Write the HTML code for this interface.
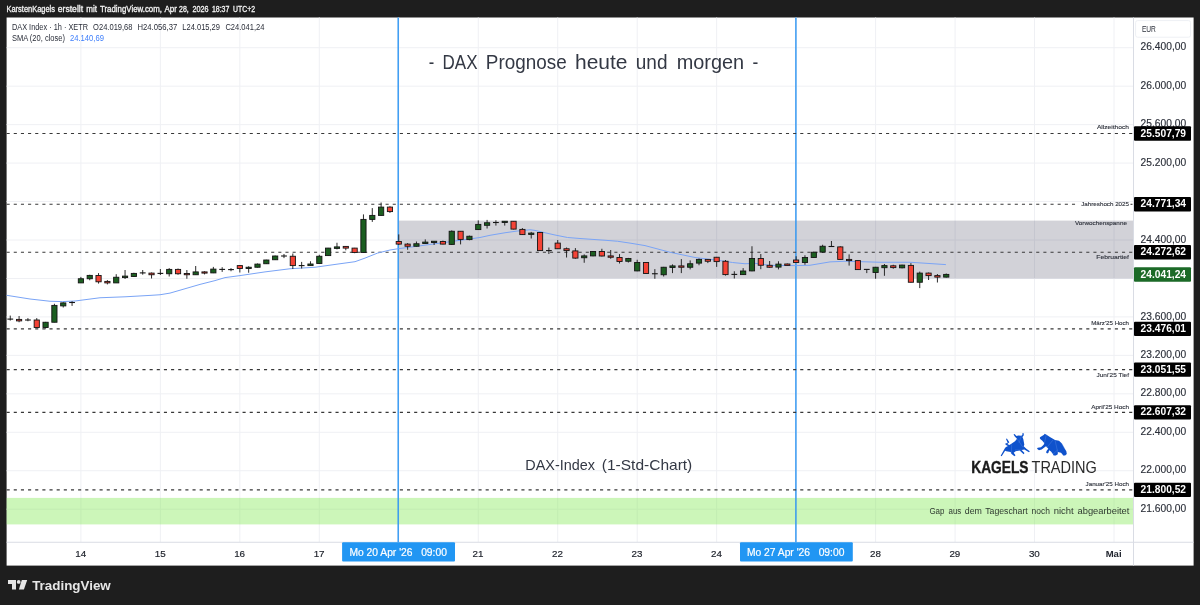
<!DOCTYPE html><html lang="de"><head><meta charset="utf-8"><title>DAX Prognose heute und morgen</title>
<style>html,body{margin:0;padding:0;background:#1e1e1e;}body{width:1200px;height:605px;overflow:hidden;font-family:"Liberation Sans",sans-serif;}svg{display:block;filter:blur(0.3px)}text{font-family:"Liberation Sans",sans-serif;}</style></head><body>
<svg width="1200" height="605" viewBox="0 0 1200 605">
<rect x="0" y="0" width="1200" height="605" fill="#1e1e1e"/>
<rect x="6.6" y="17.5" width="1187.0" height="548.1" fill="#ffffff"/>
<g stroke="#eff0f4" stroke-width="1" fill="none">
<line x1="80.90" y1="17.5" x2="80.90" y2="542.25"/>
<line x1="160.37" y1="17.5" x2="160.37" y2="542.25"/>
<line x1="239.84" y1="17.5" x2="239.84" y2="542.25"/>
<line x1="319.31" y1="17.5" x2="319.31" y2="542.25"/>
<line x1="398.78" y1="17.5" x2="398.78" y2="542.25"/>
<line x1="478.25" y1="17.5" x2="478.25" y2="542.25"/>
<line x1="557.72" y1="17.5" x2="557.72" y2="542.25"/>
<line x1="637.19" y1="17.5" x2="637.19" y2="542.25"/>
<line x1="716.66" y1="17.5" x2="716.66" y2="542.25"/>
<line x1="796.13" y1="17.5" x2="796.13" y2="542.25"/>
<line x1="875.60" y1="17.5" x2="875.60" y2="542.25"/>
<line x1="955.07" y1="17.5" x2="955.07" y2="542.25"/>
<line x1="1034.54" y1="17.5" x2="1034.54" y2="542.25"/>
<line x1="1114.01" y1="17.5" x2="1114.01" y2="542.25"/>
<line x1="6.6" y1="47.72" x2="1133.5" y2="47.72"/>
<line x1="6.6" y1="86.18" x2="1133.5" y2="86.18"/>
<line x1="6.6" y1="124.64" x2="1133.5" y2="124.64"/>
<line x1="6.6" y1="163.09" x2="1133.5" y2="163.09"/>
<line x1="6.6" y1="201.55" x2="1133.5" y2="201.55"/>
<line x1="6.6" y1="240.00" x2="1133.5" y2="240.00"/>
<line x1="6.6" y1="278.46" x2="1133.5" y2="278.46"/>
<line x1="6.6" y1="316.92" x2="1133.5" y2="316.92"/>
<line x1="6.6" y1="355.37" x2="1133.5" y2="355.37"/>
<line x1="6.6" y1="393.83" x2="1133.5" y2="393.83"/>
<line x1="6.6" y1="432.28" x2="1133.5" y2="432.28"/>
<line x1="6.6" y1="470.74" x2="1133.5" y2="470.74"/>
<line x1="6.6" y1="509.20" x2="1133.5" y2="509.20"/>
</g>
<line x1="1133.5" y1="17.5" x2="1133.5" y2="565.6" stroke="#d9dce4" stroke-width="1"/>
<line x1="6.6" y1="542.25" x2="1193.6" y2="542.25" stroke="#d9dce4" stroke-width="1"/>
<rect x="398.6" y="220.6" width="734.40" height="57.90" fill="#1c1c3c" fill-opacity="0.2"/>
<rect x="6.6" y="497.9" width="1126.40" height="26.50" fill="#7fe850" fill-opacity="0.4"/>
<line x1="398.2" y1="17.5" x2="398.2" y2="542.25" stroke="#3297f2" stroke-width="1.45"/>
<line x1="795.9" y1="17.5" x2="795.9" y2="542.25" stroke="#3297f2" stroke-width="1.45"/>
<g stroke="#383838" stroke-width="1.1" stroke-dasharray="3.1 4.05" fill="none">
<line x1="6.6" y1="133.50" x2="1132.5" y2="133.50"/>
<line x1="6.6" y1="204.30" x2="1076" y2="204.30"/>
<line x1="1130.5" y1="204.30" x2="1132.5" y2="204.30"/>
<line x1="6.6" y1="252.25" x2="1132.5" y2="252.25"/>
<line x1="6.6" y1="328.84" x2="1132.5" y2="328.84"/>
<line x1="6.6" y1="369.64" x2="1132.5" y2="369.64"/>
<line x1="6.6" y1="412.35" x2="1132.5" y2="412.35"/>
<line x1="6.6" y1="489.92" x2="1132.5" y2="489.92"/>
</g>
<polyline points="6.6,295.30 30.0,299.00 50.0,301.25 62.5,301.60 75.0,301.00 100.0,297.75 125.0,296.80 150.0,295.40 160.0,294.75 170.0,293.10 200.0,284.40 215.0,280.60 225.0,277.60 240.0,275.60 265.0,271.90 290.0,268.75 315.0,267.25 340.0,263.75 355.0,261.70 365.0,258.10 377.5,253.10 390.0,250.00 398.0,248.75 415.0,246.50 440.0,243.10 465.0,239.60 480.0,237.50 490.0,235.30 505.0,232.75 517.5,231.00 530.0,229.75 535.0,230.40 545.0,232.75 555.0,235.00 567.5,237.50 580.0,238.50 605.0,240.25 617.5,241.25 630.0,243.10 645.0,245.60 670.0,252.25 695.0,257.50 720.0,260.60 732.5,262.50 745.0,263.75 755.0,263.30 770.0,265.40 795.0,265.60 810.0,265.25 830.0,261.90 845.0,261.25 855.0,261.50 880.0,262.25 910.0,262.25 920.0,262.90 945.9,264.60" fill="none" stroke="#7aa4f6" stroke-width="1" stroke-linejoin="round"/>
<g stroke="#141414" stroke-width="0.9">
<line x1="10.26" y1="315.60" x2="10.26" y2="320.60"/>
<line x1="7.36" y1="319.10" x2="13.16" y2="319.10" stroke-width="1.1"/>
<line x1="19.09" y1="316.00" x2="19.09" y2="322.25"/>
<rect x="16.49" y="319.40" width="5.2" height="1.50" fill="#f44336"/>
<line x1="27.92" y1="318.10" x2="27.92" y2="321.25"/>
<line x1="25.02" y1="320.00" x2="30.82" y2="320.00" stroke-width="1.1"/>
<line x1="36.75" y1="318.10" x2="36.75" y2="327.50"/>
<rect x="34.15" y="320.00" width="5.2" height="7.50" fill="#f44336"/>
<line x1="45.58" y1="321.90" x2="45.58" y2="328.50"/>
<rect x="42.98" y="322.25" width="5.2" height="5.25" fill="#1b5e20"/>
<line x1="54.41" y1="303.75" x2="54.41" y2="322.25"/>
<rect x="51.81" y="305.40" width="5.2" height="16.85" fill="#1b5e20"/>
<line x1="63.24" y1="302.25" x2="63.24" y2="307.50"/>
<rect x="60.64" y="302.90" width="5.2" height="3.00" fill="#1b5e20"/>
<line x1="72.07" y1="301.25" x2="72.07" y2="305.90"/>
<line x1="69.17" y1="302.50" x2="74.97" y2="302.50" stroke-width="1.1"/>
<line x1="80.90" y1="276.90" x2="80.90" y2="282.90"/>
<rect x="78.30" y="278.75" width="5.2" height="4.15" fill="#1b5e20"/>
<line x1="89.73" y1="274.75" x2="89.73" y2="280.25"/>
<rect x="87.13" y="275.40" width="5.2" height="3.35" fill="#1b5e20"/>
<line x1="98.56" y1="273.10" x2="98.56" y2="283.60"/>
<rect x="95.96" y="275.50" width="5.2" height="6.30" fill="#f44336"/>
<line x1="107.39" y1="280.10" x2="107.39" y2="284.40"/>
<rect x="104.79" y="281.40" width="5.2" height="1.50" fill="#f44336"/>
<line x1="116.22" y1="274.20" x2="116.22" y2="282.90"/>
<rect x="113.62" y="277.25" width="5.2" height="5.65" fill="#1b5e20"/>
<line x1="125.05" y1="270.00" x2="125.05" y2="279.00"/>
<rect x="122.45" y="276.10" width="5.2" height="1.50" fill="#1b5e20"/>
<line x1="133.88" y1="272.75" x2="133.88" y2="276.90"/>
<rect x="131.28" y="273.40" width="5.2" height="3.10" fill="#1b5e20"/>
<line x1="142.71" y1="270.00" x2="142.71" y2="274.70"/>
<line x1="139.81" y1="272.90" x2="145.61" y2="272.90" stroke-width="1.1"/>
<line x1="151.54" y1="272.50" x2="151.54" y2="278.50"/>
<rect x="148.94" y="273.10" width="5.2" height="1.65" fill="#f44336"/>
<line x1="160.37" y1="269.00" x2="160.37" y2="275.00"/>
<line x1="157.47" y1="273.40" x2="163.27" y2="273.40" stroke-width="1.1"/>
<line x1="169.20" y1="268.10" x2="169.20" y2="276.50"/>
<rect x="166.60" y="269.40" width="5.2" height="4.35" fill="#1b5e20"/>
<line x1="178.03" y1="268.50" x2="178.03" y2="274.75"/>
<rect x="175.43" y="269.40" width="5.2" height="4.35" fill="#f44336"/>
<line x1="186.86" y1="270.00" x2="186.86" y2="278.75"/>
<rect x="184.26" y="273.50" width="5.2" height="1.25" fill="#f44336"/>
<line x1="195.69" y1="266.00" x2="195.69" y2="274.75"/>
<rect x="193.09" y="271.90" width="5.2" height="2.85" fill="#1b5e20"/>
<line x1="204.52" y1="271.25" x2="204.52" y2="274.40"/>
<rect x="201.92" y="271.90" width="5.2" height="1.20" fill="#f44336"/>
<line x1="213.35" y1="266.90" x2="213.35" y2="273.10"/>
<rect x="210.75" y="269.10" width="5.2" height="3.80" fill="#1b5e20"/>
<line x1="222.18" y1="267.20" x2="222.18" y2="271.90"/>
<line x1="219.28" y1="269.40" x2="225.08" y2="269.40" stroke-width="1.1"/>
<line x1="231.01" y1="268.10" x2="231.01" y2="271.25"/>
<line x1="228.11" y1="269.60" x2="233.91" y2="269.60" stroke-width="1.1"/>
<line x1="239.84" y1="265.00" x2="239.84" y2="272.50"/>
<rect x="237.24" y="265.60" width="5.2" height="2.90" fill="#f44336"/>
<line x1="248.67" y1="266.25" x2="248.67" y2="272.75"/>
<rect x="246.07" y="267.25" width="5.2" height="1.25" fill="#1b5e20"/>
<line x1="257.50" y1="263.50" x2="257.50" y2="267.50"/>
<rect x="254.90" y="264.10" width="5.2" height="3.15" fill="#1b5e20"/>
<line x1="266.33" y1="259.75" x2="266.33" y2="264.00"/>
<rect x="263.73" y="260.00" width="5.2" height="3.75" fill="#1b5e20"/>
<line x1="275.16" y1="255.60" x2="275.16" y2="260.00"/>
<rect x="272.56" y="256.00" width="5.2" height="3.75" fill="#1b5e20"/>
<line x1="283.99" y1="254.00" x2="283.99" y2="258.10"/>
<line x1="281.09" y1="256.00" x2="286.89" y2="256.00" stroke-width="1.1"/>
<line x1="292.82" y1="253.50" x2="292.82" y2="269.00"/>
<rect x="290.22" y="256.25" width="5.2" height="9.35" fill="#f44336"/>
<line x1="301.65" y1="261.90" x2="301.65" y2="268.50"/>
<line x1="298.75" y1="265.60" x2="304.55" y2="265.60" stroke-width="1.1"/>
<line x1="310.48" y1="261.25" x2="310.48" y2="265.60"/>
<rect x="307.88" y="264.00" width="5.2" height="1.60" fill="#1b5e20"/>
<line x1="319.31" y1="254.75" x2="319.31" y2="263.75"/>
<rect x="316.71" y="256.25" width="5.2" height="7.25" fill="#1b5e20"/>
<line x1="328.14" y1="247.90" x2="328.14" y2="255.90"/>
<rect x="325.54" y="248.10" width="5.2" height="7.50" fill="#1b5e20"/>
<line x1="336.97" y1="242.75" x2="336.97" y2="249.40"/>
<rect x="334.37" y="246.90" width="5.2" height="1.50" fill="#1b5e20"/>
<line x1="345.80" y1="246.10" x2="345.80" y2="250.30"/>
<rect x="343.20" y="246.40" width="5.2" height="1.70" fill="#f44336"/>
<line x1="354.63" y1="247.90" x2="354.63" y2="253.20"/>
<rect x="352.03" y="248.10" width="5.2" height="4.40" fill="#f44336"/>
<line x1="363.46" y1="214.40" x2="363.46" y2="252.75"/>
<rect x="360.86" y="219.40" width="5.2" height="33.10" fill="#1b5e20"/>
<line x1="372.29" y1="208.10" x2="372.29" y2="221.90"/>
<rect x="369.69" y="215.40" width="5.2" height="4.00" fill="#1b5e20"/>
<line x1="381.12" y1="202.50" x2="381.12" y2="215.60"/>
<rect x="378.52" y="207.10" width="5.2" height="8.30" fill="#1b5e20"/>
<line x1="389.95" y1="206.25" x2="389.95" y2="212.90"/>
<rect x="387.35" y="207.10" width="5.2" height="4.50" fill="#f44336"/>
<line x1="398.78" y1="234.40" x2="398.78" y2="245.00"/>
<rect x="396.18" y="241.50" width="5.2" height="2.60" fill="#f44336"/>
<line x1="407.61" y1="243.10" x2="407.61" y2="249.75"/>
<rect x="405.01" y="244.10" width="5.2" height="2.15" fill="#f44336"/>
<line x1="416.44" y1="241.50" x2="416.44" y2="246.50"/>
<rect x="413.84" y="243.75" width="5.2" height="2.50" fill="#1b5e20"/>
<line x1="425.27" y1="239.40" x2="425.27" y2="244.00"/>
<rect x="422.67" y="242.10" width="5.2" height="1.40" fill="#1b5e20"/>
<line x1="434.10" y1="241.00" x2="434.10" y2="245.00"/>
<rect x="431.50" y="241.25" width="5.2" height="1.25" fill="#1b5e20"/>
<line x1="442.93" y1="240.60" x2="442.93" y2="244.40"/>
<rect x="440.33" y="241.50" width="5.2" height="2.60" fill="#f44336"/>
<line x1="451.76" y1="230.40" x2="451.76" y2="245.00"/>
<rect x="449.16" y="231.25" width="5.2" height="13.15" fill="#1b5e20"/>
<line x1="460.59" y1="231.00" x2="460.59" y2="244.40"/>
<rect x="457.99" y="231.25" width="5.2" height="8.15" fill="#f44336"/>
<line x1="469.42" y1="235.60" x2="469.42" y2="240.25"/>
<rect x="466.82" y="236.25" width="5.2" height="3.35" fill="#1b5e20"/>
<line x1="478.25" y1="220.40" x2="478.25" y2="230.00"/>
<rect x="475.65" y="224.40" width="5.2" height="5.20" fill="#1b5e20"/>
<line x1="487.08" y1="219.90" x2="487.08" y2="228.50"/>
<rect x="484.48" y="222.75" width="5.2" height="2.55" fill="#1b5e20"/>
<line x1="495.91" y1="220.25" x2="495.91" y2="225.60"/>
<line x1="493.01" y1="222.50" x2="498.81" y2="222.50" stroke-width="1.1"/>
<line x1="504.74" y1="221.00" x2="504.74" y2="225.60"/>
<rect x="502.14" y="221.25" width="5.2" height="1.25" fill="#1b5e20"/>
<line x1="513.57" y1="221.00" x2="513.57" y2="229.40"/>
<rect x="510.97" y="221.25" width="5.2" height="7.85" fill="#f44336"/>
<line x1="522.40" y1="228.10" x2="522.40" y2="235.00"/>
<rect x="519.80" y="229.40" width="5.2" height="5.20" fill="#f44336"/>
<line x1="531.23" y1="231.90" x2="531.23" y2="238.50"/>
<rect x="528.63" y="233.10" width="5.2" height="1.30" fill="#1b5e20"/>
<line x1="540.06" y1="232.25" x2="540.06" y2="250.90"/>
<rect x="537.46" y="232.50" width="5.2" height="18.10" fill="#f44336"/>
<line x1="548.89" y1="247.50" x2="548.89" y2="254.00"/>
<line x1="545.99" y1="250.60" x2="551.79" y2="250.60" stroke-width="1.1"/>
<line x1="557.72" y1="240.00" x2="557.72" y2="249.00"/>
<rect x="555.12" y="243.10" width="5.2" height="5.65" fill="#f44336"/>
<line x1="566.55" y1="247.50" x2="566.55" y2="257.50"/>
<rect x="563.95" y="248.75" width="5.2" height="1.85" fill="#f44336"/>
<line x1="575.38" y1="248.10" x2="575.38" y2="258.75"/>
<rect x="572.78" y="250.90" width="5.2" height="7.20" fill="#f44336"/>
<line x1="584.21" y1="254.40" x2="584.21" y2="262.75"/>
<rect x="581.61" y="255.90" width="5.2" height="1.85" fill="#1b5e20"/>
<line x1="593.04" y1="251.00" x2="593.04" y2="256.25"/>
<rect x="590.44" y="251.50" width="5.2" height="4.40" fill="#1b5e20"/>
<line x1="601.87" y1="248.75" x2="601.87" y2="256.50"/>
<rect x="599.27" y="251.50" width="5.2" height="4.50" fill="#f44336"/>
<line x1="610.70" y1="250.00" x2="610.70" y2="258.75"/>
<rect x="608.10" y="255.90" width="5.2" height="1.35" fill="#f44336"/>
<line x1="619.53" y1="254.10" x2="619.53" y2="263.50"/>
<rect x="616.93" y="257.50" width="5.2" height="4.00" fill="#f44336"/>
<line x1="628.36" y1="257.90" x2="628.36" y2="262.50"/>
<rect x="625.76" y="258.50" width="5.2" height="2.75" fill="#1b5e20"/>
<line x1="637.19" y1="259.75" x2="637.19" y2="271.25"/>
<rect x="634.59" y="262.50" width="5.2" height="8.40" fill="#1b5e20"/>
<line x1="646.02" y1="262.25" x2="646.02" y2="273.75"/>
<rect x="643.42" y="262.50" width="5.2" height="11.00" fill="#f44336"/>
<line x1="654.85" y1="269.10" x2="654.85" y2="278.75"/>
<line x1="651.95" y1="273.75" x2="657.75" y2="273.75" stroke-width="1.1"/>
<line x1="663.68" y1="266.90" x2="663.68" y2="276.50"/>
<rect x="661.08" y="267.25" width="5.2" height="7.50" fill="#1b5e20"/>
<line x1="672.51" y1="264.40" x2="672.51" y2="273.10"/>
<rect x="669.91" y="265.90" width="5.2" height="1.60" fill="#1b5e20"/>
<line x1="681.34" y1="259.10" x2="681.34" y2="273.10"/>
<rect x="678.74" y="265.90" width="5.2" height="1.35" fill="#f44336"/>
<line x1="690.17" y1="260.40" x2="690.17" y2="269.40"/>
<rect x="687.57" y="263.75" width="5.2" height="3.50" fill="#1b5e20"/>
<line x1="699.00" y1="258.50" x2="699.00" y2="265.25"/>
<rect x="696.40" y="259.40" width="5.2" height="3.70" fill="#1b5e20"/>
<line x1="707.83" y1="259.00" x2="707.83" y2="263.10"/>
<rect x="705.23" y="259.40" width="5.2" height="1.85" fill="#f44336"/>
<line x1="716.66" y1="256.90" x2="716.66" y2="266.90"/>
<rect x="714.06" y="257.25" width="5.2" height="4.35" fill="#f44336"/>
<line x1="725.49" y1="260.00" x2="725.49" y2="275.60"/>
<rect x="722.89" y="261.25" width="5.2" height="13.35" fill="#f44336"/>
<line x1="734.32" y1="271.25" x2="734.32" y2="278.50"/>
<line x1="731.42" y1="274.40" x2="737.22" y2="274.40" stroke-width="1.1"/>
<line x1="743.15" y1="268.10" x2="743.15" y2="275.00"/>
<rect x="740.55" y="271.00" width="5.2" height="3.60" fill="#1b5e20"/>
<line x1="751.98" y1="246.25" x2="751.98" y2="271.25"/>
<rect x="749.38" y="258.50" width="5.2" height="12.40" fill="#1b5e20"/>
<line x1="760.81" y1="254.00" x2="760.81" y2="269.20"/>
<rect x="758.21" y="258.50" width="5.2" height="6.75" fill="#f44336"/>
<line x1="769.64" y1="261.00" x2="769.64" y2="267.75"/>
<rect x="767.04" y="265.30" width="5.2" height="1.95" fill="#f44336"/>
<line x1="778.47" y1="261.25" x2="778.47" y2="269.40"/>
<rect x="775.87" y="264.10" width="5.2" height="3.00" fill="#1b5e20"/>
<line x1="787.30" y1="263.50" x2="787.30" y2="265.60"/>
<rect x="784.70" y="264.00" width="5.2" height="1.40" fill="#f44336"/>
<line x1="796.13" y1="256.25" x2="796.13" y2="262.75"/>
<rect x="793.53" y="260.00" width="5.2" height="2.50" fill="#f44336"/>
<line x1="804.96" y1="255.25" x2="804.96" y2="264.75"/>
<rect x="802.36" y="257.50" width="5.2" height="5.00" fill="#1b5e20"/>
<line x1="813.79" y1="251.60" x2="813.79" y2="257.75"/>
<rect x="811.19" y="252.25" width="5.2" height="5.25" fill="#1b5e20"/>
<line x1="822.62" y1="244.75" x2="822.62" y2="252.75"/>
<rect x="820.02" y="246.25" width="5.2" height="5.85" fill="#1b5e20"/>
<line x1="831.45" y1="241.00" x2="831.45" y2="246.90"/>
<line x1="828.55" y1="246.50" x2="834.35" y2="246.50" stroke-width="1.1"/>
<line x1="840.28" y1="246.25" x2="840.28" y2="259.60"/>
<rect x="837.68" y="246.90" width="5.2" height="12.50" fill="#f44336"/>
<line x1="849.11" y1="254.40" x2="849.11" y2="265.60"/>
<rect x="846.51" y="259.40" width="5.2" height="1.20" fill="#f44336"/>
<line x1="857.94" y1="260.00" x2="857.94" y2="269.75"/>
<rect x="855.34" y="260.60" width="5.2" height="9.00" fill="#f44336"/>
<line x1="866.77" y1="269.10" x2="866.77" y2="273.10"/>
<line x1="863.87" y1="269.40" x2="869.67" y2="269.40" stroke-width="1.1"/>
<line x1="875.60" y1="266.90" x2="875.60" y2="278.75"/>
<rect x="873.00" y="267.25" width="5.2" height="5.25" fill="#1b5e20"/>
<line x1="884.43" y1="264.00" x2="884.43" y2="275.80"/>
<rect x="881.83" y="265.60" width="5.2" height="2.10" fill="#1b5e20"/>
<line x1="893.26" y1="264.75" x2="893.26" y2="268.75"/>
<rect x="890.66" y="265.80" width="5.2" height="1.80" fill="#f44336"/>
<line x1="902.09" y1="264.75" x2="902.09" y2="268.40"/>
<rect x="899.49" y="265.10" width="5.2" height="2.70" fill="#1b5e20"/>
<line x1="910.92" y1="263.10" x2="910.92" y2="282.50"/>
<rect x="908.32" y="265.40" width="5.2" height="16.85" fill="#f44336"/>
<line x1="919.75" y1="271.60" x2="919.75" y2="288.10"/>
<rect x="917.15" y="273.10" width="5.2" height="9.15" fill="#1b5e20"/>
<line x1="928.58" y1="272.50" x2="928.58" y2="280.00"/>
<rect x="925.98" y="273.10" width="5.2" height="2.50" fill="#f44336"/>
<line x1="937.41" y1="274.00" x2="937.41" y2="282.50"/>
<rect x="934.81" y="275.60" width="5.2" height="1.50" fill="#f44336"/>
<line x1="946.24" y1="273.50" x2="946.24" y2="277.50"/>
<rect x="943.64" y="274.40" width="5.2" height="2.70" fill="#1b5e20"/>
</g>
<text x="6.5" y="12.4" font-size="8.3" fill="#f4f4f4" font-weight="normal" text-anchor="start" textLength="48.5" lengthAdjust="spacingAndGlyphs" stroke="#f4f4f4" stroke-width="0.3">KarstenKagels</text>
<text x="57.75" y="12.4" font-size="8.3" fill="#f4f4f4" font-weight="normal" text-anchor="start" textLength="25.35" lengthAdjust="spacingAndGlyphs" stroke="#f4f4f4" stroke-width="0.3">erstellt</text>
<text x="86.25" y="12.4" font-size="8.3" fill="#f4f4f4" font-weight="normal" text-anchor="start" textLength="10.65" lengthAdjust="spacingAndGlyphs" stroke="#f4f4f4" stroke-width="0.3">mit</text>
<text x="100" y="12.4" font-size="8.3" fill="#f4f4f4" font-weight="normal" text-anchor="start" textLength="61.9" lengthAdjust="spacingAndGlyphs" stroke="#f4f4f4" stroke-width="0.3">TradingView.com,</text>
<text x="164.4" y="12.4" font-size="8.3" fill="#f4f4f4" font-weight="normal" text-anchor="start" textLength="12.5" lengthAdjust="spacingAndGlyphs" stroke="#f4f4f4" stroke-width="0.3">Apr</text>
<text x="179" y="12.4" font-size="8.3" fill="#f4f4f4" font-weight="normal" text-anchor="start" textLength="9.75" lengthAdjust="spacingAndGlyphs" stroke="#f4f4f4" stroke-width="0.3">28,</text>
<text x="192.5" y="12.4" font-size="8.3" fill="#f4f4f4" font-weight="normal" text-anchor="start" textLength="16.0" lengthAdjust="spacingAndGlyphs" stroke="#f4f4f4" stroke-width="0.3">2026</text>
<text x="211.9" y="12.4" font-size="8.3" fill="#f4f4f4" font-weight="normal" text-anchor="start" textLength="17.5" lengthAdjust="spacingAndGlyphs" stroke="#f4f4f4" stroke-width="0.3">18:37</text>
<text x="233.1" y="12.4" font-size="8.3" fill="#f4f4f4" font-weight="normal" text-anchor="start" textLength="21.9" lengthAdjust="spacingAndGlyphs" stroke="#f4f4f4" stroke-width="0.3">UTC+2</text>
<text x="11.9" y="30" font-size="8.4" fill="#2a2e39" font-weight="normal" text-anchor="start" textLength="76.2" lengthAdjust="spacingAndGlyphs">DAX Index · 1h · XETR</text>
<text x="93.1" y="30" font-size="8.4" fill="#2a2e39" font-weight="normal" text-anchor="start" textLength="39.4" lengthAdjust="spacingAndGlyphs">O24.019,68</text>
<text x="137.5" y="30" font-size="8.4" fill="#2a2e39" font-weight="normal" text-anchor="start" textLength="39.7" lengthAdjust="spacingAndGlyphs">H24.056,37</text>
<text x="182.3" y="30" font-size="8.4" fill="#2a2e39" font-weight="normal" text-anchor="start" textLength="37.7" lengthAdjust="spacingAndGlyphs">L24.015,29</text>
<text x="225.4" y="30" font-size="8.4" fill="#2a2e39" font-weight="normal" text-anchor="start" textLength="39" lengthAdjust="spacingAndGlyphs">C24.041,24</text>
<text x="11.9" y="41" font-size="8.4" fill="#2a2e39" font-weight="normal" text-anchor="start" textLength="53.1" lengthAdjust="spacingAndGlyphs">SMA (20, close)</text>
<text x="70" y="41" font-size="8.4" fill="#3f7ffb" font-weight="normal" text-anchor="start" textLength="34" lengthAdjust="spacingAndGlyphs">24.140,69</text>
<text x="428.7" y="68.8" font-size="20" fill="#333844" font-weight="normal" text-anchor="start" textLength="5.5" lengthAdjust="spacingAndGlyphs">-</text>
<text x="442.5" y="68.8" font-size="20" fill="#333844" font-weight="normal" text-anchor="start" textLength="35.0" lengthAdjust="spacingAndGlyphs">DAX</text>
<text x="485.8" y="68.8" font-size="20" fill="#333844" font-weight="normal" text-anchor="start" textLength="80.9" lengthAdjust="spacingAndGlyphs">Prognose</text>
<text x="575" y="68.8" font-size="20" fill="#333844" font-weight="normal" text-anchor="start" textLength="52.5" lengthAdjust="spacingAndGlyphs">heute</text>
<text x="635.8" y="68.8" font-size="20" fill="#333844" font-weight="normal" text-anchor="start" textLength="31.7" lengthAdjust="spacingAndGlyphs">und</text>
<text x="676.7" y="68.8" font-size="20" fill="#333844" font-weight="normal" text-anchor="start" textLength="67.5" lengthAdjust="spacingAndGlyphs">morgen</text>
<text x="752.5" y="68.8" font-size="20" fill="#333844" font-weight="normal" text-anchor="start" textLength="5.8" lengthAdjust="spacingAndGlyphs">-</text>
<text x="525.3" y="470" font-size="15" fill="#333844" font-weight="normal" text-anchor="start" textLength="69.7" lengthAdjust="spacingAndGlyphs">DAX-Index</text>
<text x="601.8" y="470" font-size="15" fill="#333844" font-weight="normal" text-anchor="start" textLength="90.5" lengthAdjust="spacingAndGlyphs">(1-Std-Chart)</text>
<text x="929.4" y="513.75" font-size="8.9" fill="#2f3a30" font-weight="normal" text-anchor="start" textLength="15.0" lengthAdjust="spacingAndGlyphs">Gap</text>
<text x="948.5" y="513.75" font-size="8.9" fill="#2f3a30" font-weight="normal" text-anchor="start" textLength="12.75" lengthAdjust="spacingAndGlyphs">aus</text>
<text x="964.75" y="513.75" font-size="8.9" fill="#2f3a30" font-weight="normal" text-anchor="start" textLength="17.15" lengthAdjust="spacingAndGlyphs">dem</text>
<text x="985.25" y="513.75" font-size="8.9" fill="#2f3a30" font-weight="normal" text-anchor="start" textLength="42.5" lengthAdjust="spacingAndGlyphs">Tageschart</text>
<text x="1031.6" y="513.75" font-size="8.9" fill="#2f3a30" font-weight="normal" text-anchor="start" textLength="18.4" lengthAdjust="spacingAndGlyphs">noch</text>
<text x="1053.75" y="513.75" font-size="8.9" fill="#2f3a30" font-weight="normal" text-anchor="start" textLength="20.0" lengthAdjust="spacingAndGlyphs">nicht</text>
<text x="1077.5" y="513.75" font-size="8.9" fill="#2f3a30" font-weight="normal" text-anchor="start" textLength="51.9" lengthAdjust="spacingAndGlyphs">abgearbeitet</text>
<text x="1129" y="129.35" font-size="5.8" fill="#2c303a" font-weight="normal" text-anchor="end" textLength="32.1" lengthAdjust="spacingAndGlyphs" stroke="#2c303a" stroke-width="0.12">Allzeithoch</text>
<text x="1129" y="206.0" font-size="5.8" fill="#2c303a" font-weight="normal" text-anchor="end" textLength="47.75" lengthAdjust="spacingAndGlyphs" stroke="#2c303a" stroke-width="0.12">Jahreshoch 2025</text>
<text x="1126.9" y="225.2" font-size="5.8" fill="#2c303a" font-weight="normal" text-anchor="end" textLength="51.9" lengthAdjust="spacingAndGlyphs" stroke="#2c303a" stroke-width="0.12">Vorwochenspanne</text>
<text x="1129" y="259.0" font-size="5.8" fill="#2c303a" font-weight="normal" text-anchor="end" textLength="32.75" lengthAdjust="spacingAndGlyphs" stroke="#2c303a" stroke-width="0.12">Februartief</text>
<text x="1129" y="325.2" font-size="5.8" fill="#2c303a" font-weight="normal" text-anchor="end" textLength="37.75" lengthAdjust="spacingAndGlyphs" stroke="#2c303a" stroke-width="0.12">März'25 Hoch</text>
<text x="1129" y="377.1" font-size="5.8" fill="#2c303a" font-weight="normal" text-anchor="end" textLength="32.5" lengthAdjust="spacingAndGlyphs" stroke="#2c303a" stroke-width="0.12">Juni'25 Tief</text>
<text x="1129" y="409.0" font-size="5.8" fill="#2c303a" font-weight="normal" text-anchor="end" textLength="37.75" lengthAdjust="spacingAndGlyphs" stroke="#2c303a" stroke-width="0.12">April'25 Hoch</text>
<text x="1129" y="486.2" font-size="5.8" fill="#2c303a" font-weight="normal" text-anchor="end" textLength="43.4" lengthAdjust="spacingAndGlyphs" stroke="#2c303a" stroke-width="0.12">Januar'25 Hoch</text>
<rect x="1135.6" y="20.6" width="55" height="16.6" rx="2" fill="#ffffff" stroke="#eef0f4" stroke-width="1"/>
<text x="1141.9" y="31.9" font-size="8.4" fill="#2a2e39" font-weight="normal" text-anchor="start" textLength="14" lengthAdjust="spacingAndGlyphs">EUR</text>
<text x="1140.6" y="50.32" font-size="10.4" fill="#2c303a" font-weight="normal" text-anchor="start" textLength="45.6" lengthAdjust="spacingAndGlyphs" stroke="#2c303a" stroke-width="0.15">26.400,00</text>
<text x="1140.6" y="88.78" font-size="10.4" fill="#2c303a" font-weight="normal" text-anchor="start" textLength="45.6" lengthAdjust="spacingAndGlyphs" stroke="#2c303a" stroke-width="0.15">26.000,00</text>
<text x="1140.6" y="127.24" font-size="10.4" fill="#2c303a" font-weight="normal" text-anchor="start" textLength="45.6" lengthAdjust="spacingAndGlyphs" stroke="#2c303a" stroke-width="0.15">25.600,00</text>
<text x="1140.6" y="165.69" font-size="10.4" fill="#2c303a" font-weight="normal" text-anchor="start" textLength="45.6" lengthAdjust="spacingAndGlyphs" stroke="#2c303a" stroke-width="0.15">25.200,00</text>
<text x="1140.6" y="242.60" font-size="10.4" fill="#2c303a" font-weight="normal" text-anchor="start" textLength="45.6" lengthAdjust="spacingAndGlyphs" stroke="#2c303a" stroke-width="0.15">24.400,00</text>
<text x="1140.6" y="319.52" font-size="10.4" fill="#2c303a" font-weight="normal" text-anchor="start" textLength="45.6" lengthAdjust="spacingAndGlyphs" stroke="#2c303a" stroke-width="0.15">23.600,00</text>
<text x="1140.6" y="357.97" font-size="10.4" fill="#2c303a" font-weight="normal" text-anchor="start" textLength="45.6" lengthAdjust="spacingAndGlyphs" stroke="#2c303a" stroke-width="0.15">23.200,00</text>
<text x="1140.6" y="396.43" font-size="10.4" fill="#2c303a" font-weight="normal" text-anchor="start" textLength="45.6" lengthAdjust="spacingAndGlyphs" stroke="#2c303a" stroke-width="0.15">22.800,00</text>
<text x="1140.6" y="434.88" font-size="10.4" fill="#2c303a" font-weight="normal" text-anchor="start" textLength="45.6" lengthAdjust="spacingAndGlyphs" stroke="#2c303a" stroke-width="0.15">22.400,00</text>
<text x="1140.6" y="473.34" font-size="10.4" fill="#2c303a" font-weight="normal" text-anchor="start" textLength="45.6" lengthAdjust="spacingAndGlyphs" stroke="#2c303a" stroke-width="0.15">22.000,00</text>
<text x="1140.6" y="511.80" font-size="10.4" fill="#2c303a" font-weight="normal" text-anchor="start" textLength="45.6" lengthAdjust="spacingAndGlyphs" stroke="#2c303a" stroke-width="0.15">21.600,00</text>
<rect x="1134" y="126.30" width="57" height="14.4" rx="1" fill="#000000"/>
<text x="1140.6" y="136.60" font-size="10.2" fill="#ffffff" font-weight="bold" text-anchor="start" textLength="45.4" lengthAdjust="spacingAndGlyphs">25.507,79</text>
<rect x="1134" y="197.10" width="57" height="14.4" rx="1" fill="#000000"/>
<text x="1140.6" y="207.40" font-size="10.2" fill="#ffffff" font-weight="bold" text-anchor="start" textLength="45.4" lengthAdjust="spacingAndGlyphs">24.771,34</text>
<rect x="1134" y="245.05" width="57" height="14.4" rx="1" fill="#000000"/>
<text x="1140.6" y="255.35" font-size="10.2" fill="#ffffff" font-weight="bold" text-anchor="start" textLength="45.4" lengthAdjust="spacingAndGlyphs">24.272,62</text>
<rect x="1134" y="321.64" width="57" height="14.4" rx="1" fill="#000000"/>
<text x="1140.6" y="331.94" font-size="10.2" fill="#ffffff" font-weight="bold" text-anchor="start" textLength="45.4" lengthAdjust="spacingAndGlyphs">23.476,01</text>
<rect x="1134" y="362.44" width="57" height="14.4" rx="1" fill="#000000"/>
<text x="1140.6" y="372.74" font-size="10.2" fill="#ffffff" font-weight="bold" text-anchor="start" textLength="45.4" lengthAdjust="spacingAndGlyphs">23.051,55</text>
<rect x="1134" y="405.15" width="57" height="14.4" rx="1" fill="#000000"/>
<text x="1140.6" y="415.45" font-size="10.2" fill="#ffffff" font-weight="bold" text-anchor="start" textLength="45.4" lengthAdjust="spacingAndGlyphs">22.607,32</text>
<rect x="1134" y="482.72" width="57" height="14.4" rx="1" fill="#000000"/>
<text x="1140.6" y="493.02" font-size="10.2" fill="#ffffff" font-weight="bold" text-anchor="start" textLength="45.4" lengthAdjust="spacingAndGlyphs">21.800,52</text>
<rect x="1134" y="267.29" width="57" height="14.4" rx="1" fill="#1b6a27"/>
<text x="1140.6" y="277.59" font-size="10.2" fill="#ffffff" font-weight="bold" text-anchor="start" textLength="45.4" lengthAdjust="spacingAndGlyphs">24.041,24</text>
<text x="80.70" y="557.4" font-size="9.8" fill="#1e222b" font-weight="normal" text-anchor="middle" stroke="#1e222b" stroke-width="0.2">14</text>
<text x="160.17" y="557.4" font-size="9.8" fill="#1e222b" font-weight="normal" text-anchor="middle" stroke="#1e222b" stroke-width="0.2">15</text>
<text x="239.64" y="557.4" font-size="9.8" fill="#1e222b" font-weight="normal" text-anchor="middle" stroke="#1e222b" stroke-width="0.2">16</text>
<text x="319.11" y="557.4" font-size="9.8" fill="#1e222b" font-weight="normal" text-anchor="middle" stroke="#1e222b" stroke-width="0.2">17</text>
<text x="478.05" y="557.4" font-size="9.8" fill="#1e222b" font-weight="normal" text-anchor="middle" stroke="#1e222b" stroke-width="0.2">21</text>
<text x="557.52" y="557.4" font-size="9.8" fill="#1e222b" font-weight="normal" text-anchor="middle" stroke="#1e222b" stroke-width="0.2">22</text>
<text x="636.99" y="557.4" font-size="9.8" fill="#1e222b" font-weight="normal" text-anchor="middle" stroke="#1e222b" stroke-width="0.2">23</text>
<text x="716.46" y="557.4" font-size="9.8" fill="#1e222b" font-weight="normal" text-anchor="middle" stroke="#1e222b" stroke-width="0.2">24</text>
<text x="875.40" y="557.4" font-size="9.8" fill="#1e222b" font-weight="normal" text-anchor="middle" stroke="#1e222b" stroke-width="0.2">28</text>
<text x="954.87" y="557.4" font-size="9.8" fill="#1e222b" font-weight="normal" text-anchor="middle" stroke="#1e222b" stroke-width="0.2">29</text>
<text x="1034.34" y="557.4" font-size="9.8" fill="#1e222b" font-weight="normal" text-anchor="middle" stroke="#1e222b" stroke-width="0.2">30</text>
<text x="1113.61" y="556.9" font-size="9.2" fill="#22262f" font-weight="bold" text-anchor="middle" textLength="15.9" lengthAdjust="spacingAndGlyphs">Mai</text>
<rect x="342.1" y="542.25" width="112.9" height="19.25" rx="1" fill="#2196f3"/>
<text x="349.4" y="556.2" font-size="10.6" fill="#ffffff" font-weight="normal" text-anchor="start" textLength="97.5" lengthAdjust="spacingAndGlyphs" xml:space="preserve" stroke="#fff" stroke-width="0.2">Mo 20 Apr '26   09:00</text>
<rect x="740" y="542.25" width="112.8" height="19.25" rx="1" fill="#2196f3"/>
<text x="746.9" y="556.2" font-size="10.6" fill="#ffffff" font-weight="normal" text-anchor="start" textLength="97.5" lengthAdjust="spacingAndGlyphs" xml:space="preserve" stroke="#fff" stroke-width="0.2">Mo 27 Apr '26   09:00</text>
<text x="971.25" y="473.1" font-size="16.6" fill="#1a1a1a" font-weight="bold" text-anchor="start" textLength="57.25" lengthAdjust="spacingAndGlyphs" stroke="#1a1a1a" stroke-width="0.35">KAGELS</text>
<text x="1031.5" y="473.1" font-size="16.6" fill="#2a2a2a" font-weight="normal" text-anchor="start" textLength="65.4" lengthAdjust="spacingAndGlyphs">TRADING</text>
<polygon points="1000.67,455.67 1005.00,448.00 1006.00,447.00 1008.00,446.00 1006.87,445.47 1005.00,444.00 1005.67,443.47 1007.67,442.80 1006.00,439.00 1006.87,438.53 1009.33,442.33 1007.33,444.00 1009.33,445.00 1011.00,444.00 1015.00,441.33 1017.00,438.67 1015.00,436.67 1013.53,434.53 1014.53,434.00 1016.47,436.00 1018.33,435.53 1021.33,435.87 1022.33,435.00 1022.53,433.00 1023.67,433.20 1023.80,435.33 1022.47,437.00 1023.33,439.33 1024.33,444.67 1023.67,446.33 1026.33,448.67 1029.80,451.33 1029.00,452.13 1024.33,449.47 1021.67,450.00 1024.47,453.00 1023.67,454.13 1019.67,450.47 1015.67,451.33 1013.67,452.67 1015.47,455.20 1014.47,456.13 1011.33,453.80 1010.67,452.00 1006.33,451.33 1005.13,450.87 1001.67,456.13" fill="#0f52cc"/>
<polygon points="1040.00,437.33 1044.00,434.80 1044.67,433.87 1046.47,434.67 1050.33,437.33 1055.00,440.00 1059.00,440.67 1061.67,443.33 1064.33,448.00 1066.33,451.33 1066.80,454.00 1065.13,455.47 1063.13,455.47 1062.33,454.13 1061.00,452.67 1057.80,452.00 1057.80,454.33 1055.80,455.47 1053.67,455.47 1052.67,453.80 1051.00,451.47 1049.13,450.13 1048.47,452.67 1047.13,453.47 1046.00,452.13 1047.00,450.13 1048.33,448.67 1046.00,446.33 1041.67,449.47 1039.00,450.13 1037.00,448.80 1037.67,447.73 1041.00,447.33 1043.67,444.67 1044.33,443.33 1042.33,440.67 1040.47,439.20 1039.80,438.13" fill="#0f52cc"/>
<g stroke="#5f8fe6" stroke-width="0.35" fill="none">
<polyline points="1017.00,438.67 1023.00,447.33"/>
<polyline points="1011.67,444.33 1011.33,453.67"/>
<polyline points="1021.33,435.87 1019.00,442.67"/>
<polyline points="1015.00,450.00 1021.67,450.00"/>
<polyline points="1046.33,434.67 1044.33,443.33"/>
<polyline points="1053.00,440.00 1047.00,447.33"/>
<polyline points="1055.00,440.00 1057.67,452.00"/>
<polyline points="1057.67,450.00 1053.00,454.00"/>
<polyline points="1061.67,443.33 1064.33,448.00"/>
</g>
<path d="M8 580H16V589.6H12V584H8Z" fill="#e6e6e6"/>
<circle cx="18.7" cy="581.9" r="1.9" fill="#e6e6e6"/>
<path d="M21.8 580H27.2L23.9 589.6H18.9Z" fill="#e6e6e6"/>
<text x="32.2" y="589.6" font-size="13.4" fill="#e6e6e6" font-weight="bold" text-anchor="start" textLength="78.6" lengthAdjust="spacingAndGlyphs">TradingView</text>
</svg></body></html>
